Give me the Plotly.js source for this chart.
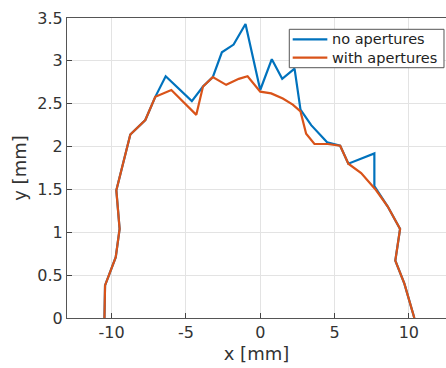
<!DOCTYPE html>
<html>
<head>
<meta charset="utf-8">
<script src="https://cdn.plot.ly/plotly-3.0.1.min.js"></script>
<style>html,body{margin:0;padding:0;background:#fff;}#chart{width:446px;height:368px;}</style>
</head>
<body>
<div id="chart"></div>
<script>
// "no apertures" series
const noApX = [-10.48, -10.44, -9.72, -9.46, -9.68, -8.74, -7.73, -7.06, -6.36, -4.6, -3.85, -3.19, -2.58, -1.79, -0.99, 0.0, 0.78, 1.48, 2.31, 2.71, 3.43, 4.5, 5.38, 5.93, 7.68, 7.68, 8.58, 9.41, 9.09, 9.70, 10.37];
const noApY = [0, 0.38, 0.71, 1.04, 1.49, 2.14, 2.31, 2.58, 2.82, 2.53, 2.70, 2.81, 3.10, 3.19, 3.43, 2.66, 3.02, 2.79, 2.91, 2.43, 2.25, 2.05, 2.01, 1.80, 1.92, 1.54, 1.30, 1.04, 0.67, 0.40, 0];
// "with apertures" series
const withApX = [-10.48, -10.44, -9.72, -9.46, -9.68, -8.74, -7.73, -7.06, -5.98, -4.30, -3.85, -3.19, -2.29, -1.44, -0.85, 0.0, 0.74, 1.52, 2.19, 2.71, 3.09, 3.65, 4.54, 5.38, 5.93, 6.79, 7.8, 8.58, 9.41, 9.09, 9.70, 10.37];
const withApY = [0, 0.38, 0.71, 1.04, 1.49, 2.14, 2.31, 2.58, 2.66, 2.37, 2.70, 2.81, 2.72, 2.79, 2.82, 2.64, 2.62, 2.56, 2.49, 2.41, 2.15, 2.03, 2.03, 2.01, 1.80, 1.69, 1.49, 1.30, 1.04, 0.67, 0.40, 0];
// series names and colours
const seriesNames = ["no apertures", "with apertures"];
const seriesColors = ["#0072BD", "#D95319"];
// tick labels
const xTickVals = [-10, -5, 0, 5, 10];
const xTickText = ["-10", "-5", "0", "5", "10"];
const yTickVals = [0, 0.5, 1, 1.5, 2, 2.5, 3, 3.5];
const yTickText = ["0", "0.5", "1", "1.5", "2", "2.5", "3", "3.5"];

const font = "DejaVu Sans, sans-serif";
const data = [
  {x: noApX, y: noApY, type: 'scatter', mode: 'lines', name: seriesNames[0],
   line: {color: seriesColors[0], width: 2.2}, showlegend: false},
  {x: withApX, y: withApY, type: 'scatter', mode: 'lines', name: seriesNames[1],
   line: {color: seriesColors[1], width: 2.2}, showlegend: false}
];

// compact MATLAB-style legend box (paper coordinates)
const legBox = {x0: 0.5865, x1: 0.9947, y0: 0.8343, y1: 0.9623};
const legRowY = [0.929, 0.8677];
const legLineX = [0.5955, 0.6869];
const legTextX = 0.694;
const shapes = [{type: 'rect', xref: 'paper', yref: 'paper',
  x0: legBox.x0, x1: legBox.x1, y0: legBox.y0, y1: legBox.y1,
  line: {color: '#555', width: 1}, fillcolor: '#fff', layer: 'above'}];
const annotations = [];
seriesNames.forEach((n, i) => {
  shapes.push({type: 'line', xref: 'paper', yref: 'paper',
    x0: legLineX[0], x1: legLineX[1], y0: legRowY[i], y1: legRowY[i],
    line: {color: seriesColors[i], width: 2.2}, layer: 'above'});
  annotations.push({xref: 'paper', yref: 'paper', x: legTextX, y: legRowY[i],
    xanchor: 'left', yanchor: 'middle', text: n, showarrow: false,
    font: {size: 14.5, color: '#222', family: font}});
});

const layout = {
  width: 446, height: 368,
  margin: {l: 67, r: 0, t: 18, b: 50},
  paper_bgcolor: '#fff', plot_bgcolor: '#fff',
  font: {family: font, color: '#333'},
  showlegend: false,
  shapes: shapes,
  annotations: annotations,
  xaxis: {
    range: [-13, 12.5], tickvals: xTickVals, ticktext: xTickText,
    ticks: 'inside', ticklen: 5, tickcolor: '#444', tickwidth: 1,
    showline: true, linecolor: '#555', linewidth: 1, mirror: true,
    showgrid: true, gridcolor: '#e3e3e3', gridwidth: 1, zeroline: false,
    tickfont: {size: 16, color: '#333'},
    title: {text: 'x [mm]', font: {size: 18, color: '#333'}, standoff: 6}
  },
  yaxis: {
    range: [0, 3.5], tickvals: yTickVals, ticktext: yTickText,
    ticks: 'inside', ticklen: 5, tickcolor: '#444', tickwidth: 1,
    showline: true, linecolor: '#555', linewidth: 1, mirror: false,
    showgrid: true, gridcolor: '#e3e3e3', gridwidth: 1, zeroline: false,
    tickfont: {size: 16, color: '#333'},
    title: {text: 'y [mm]', font: {size: 18, color: '#333'}, standoff: 6}
  }
};
Plotly.newPlot('chart', data, layout, {displayModeBar: false, staticPlot: true});
</script>
</body>
</html>
